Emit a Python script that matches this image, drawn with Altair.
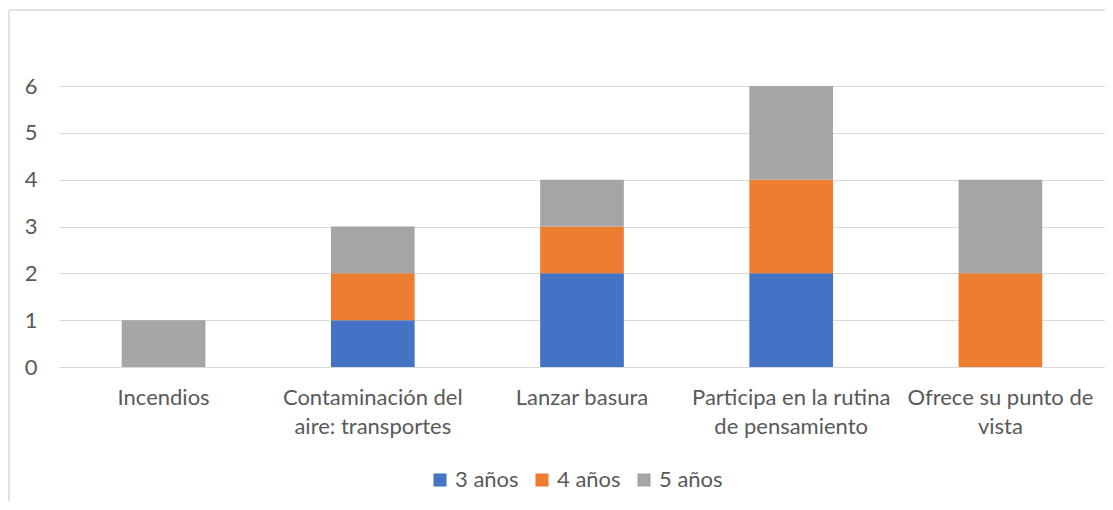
import altair as alt
import pandas as pd

categories = ["Incendios", "Contaminación del aire: transportes", "Lanzar basura",
              "Participa en la rutina de pensamiento", "Ofrece su punto de vista"]
label_lines = [["Incendios"], ["Contaminación del", "aire: transportes"], ["Lanzar basura"],
               ["Participa en la rutina", "de pensamiento"], ["Ofrece su punto de", "vista"]]
series = ["3 años", "4 años", "5 años"]
values_3 = [0, 1, 2, 2, 0]
values_4 = [0, 1, 1, 2, 2]
values_5 = [1, 1, 1, 2, 2]
colors = ["#4472C4", "#ED7D31", "#A5A5A5"]

rows = []
for i, c in enumerate(categories):
    for j, (s, vals) in enumerate(zip(series, [values_3, values_4, values_5])):
        rows.append({"categoria": c, "serie": s, "valor": vals[i], "orden": j})
df = pd.DataFrame(rows)

expr_parts = []
for c, lines in zip(categories, label_lines):
    arr = "[" + ",".join("'" + l + "'" for l in lines) + "]"
    expr_parts.append(f"datum.label == '{c}' ? {arr} : ")
label_expr = "".join(expr_parts) + "datum.label"

FONT = "Lato"
TXT = "#595959"
GRID = "#D9D9D9"
FS = 22

bars = alt.Chart(df).mark_bar().encode(
    x=alt.X("categoria:N", sort=categories,
            scale=alt.Scale(paddingInner=0.6, paddingOuter=0.3),
            axis=alt.Axis(title=None, labelAngle=0, labelExpr=label_expr, labelLimit=400,
                          labelFont=FONT, labelFontSize=FS, labelColor=TXT,
                          labelLineHeight=29, labelPadding=20, ticks=False,
                          domainColor=GRID, domainWidth=1, grid=False)),
    y=alt.Y("valor:Q", stack="zero", scale=alt.Scale(domain=[0, 6], nice=False),
            axis=alt.Axis(title=None, values=[0, 1, 2, 3, 4, 5, 6], ticks=False, domain=False,
                          labelFont=FONT, labelFontSize=FS, labelColor=TXT, labelPadding=22,
                          gridColor=GRID, gridWidth=1)),
    color=alt.Color("serie:N", sort=series,
                    scale=alt.Scale(domain=series, range=colors),
                    legend=alt.Legend(title=None, orient="none", direction="horizontal",
                                      legendX=370, legendY=383, symbolType="square",
                                      symbolSize=170, symbolStrokeWidth=0, symbolOpacity=1,
                                      labelFont=FONT, labelFontSize=FS, labelColor=TXT,
                                      labelOffset=4, columnPadding=12, padding=0)),
    order=alt.Order("orden:Q"),
)

border_left = alt.Chart(pd.DataFrame({"a": [0]})).mark_rule(color=GRID, strokeWidth=1.5).encode(
    x=alt.value(-50), y=alt.value(-76), y2=alt.value(460))
border_top = alt.Chart(pd.DataFrame({"a": [0]})).mark_rule(color=GRID, strokeWidth=1.5).encode(
    x=alt.value(-50), x2=alt.value(1046), y=alt.value(-76))

chart = alt.layer(bars, border_left, border_top).properties(
    width=1046, height=281,
    background="white",
    autosize=alt.AutoSizeParams(type="none"),
    padding={"left": 51, "top": 78, "right": 0, "bottom": 134},
).configure_view(stroke=None)

chart.save("out.html", embed_options={"renderer": "svg", "actions": False})
